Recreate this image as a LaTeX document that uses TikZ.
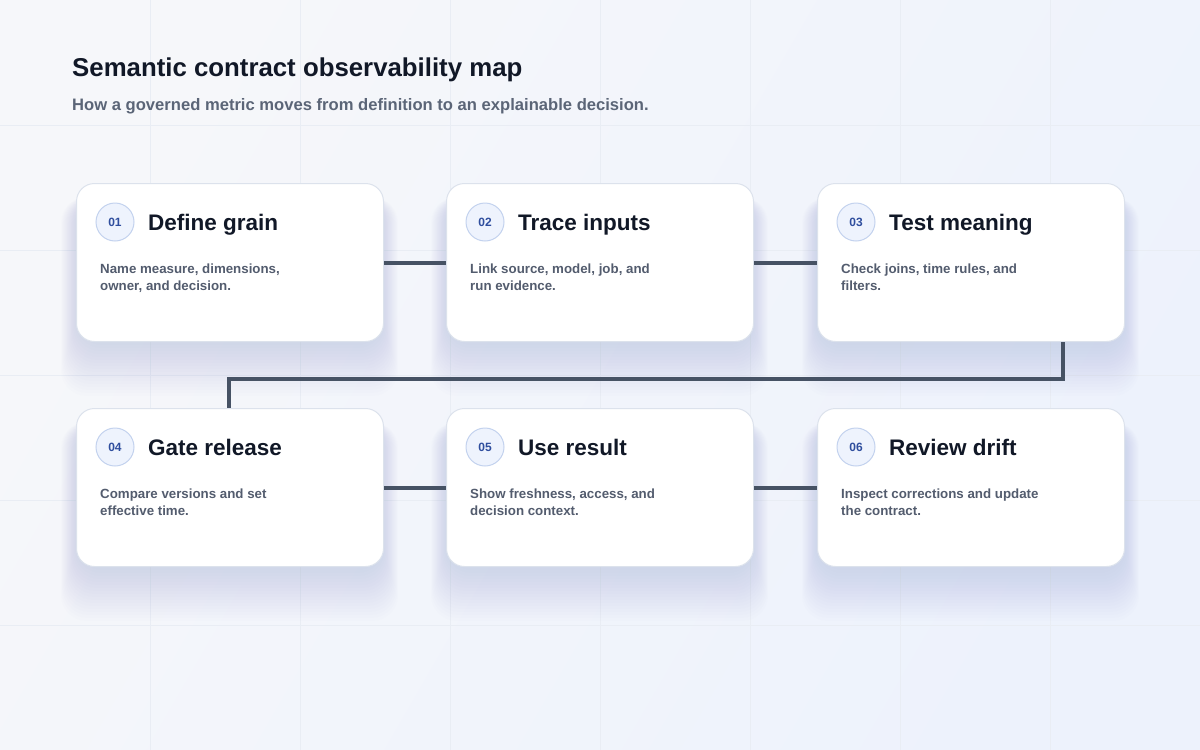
\documentclass[tikz,border=0pt]{standalone}
\usepackage{fontspec}
\setmainfont{Liberation Sans}
\usetikzlibrary{calc}
\definecolor{bgA}{HTML}{F6F7FA}
\definecolor{bgB}{HTML}{EDF2FC}
\definecolor{gridc}{HTML}{E9EDF4}
\definecolor{cardedge}{HTML}{DCE2EC}
\definecolor{titlec}{HTML}{111827}
\definecolor{subc}{HTML}{5B6577}
\definecolor{descc}{HTML}{535C6E}
\definecolor{numc}{HTML}{2F4E9E}
\definecolor{circfill}{HTML}{EEF3FD}
\definecolor{circedge}{HTML}{C3D2EE}
\definecolor{linkc}{HTML}{465264}
\definecolor{shadowc}{HTML}{7C88AA}
\tikzset{
  card/.style={draw=cardedge, line width=1pt, fill=white, rounded corners=18pt,
    minimum width=307pt, minimum height=158pt, anchor=north west, inner sep=0pt},
  shadowlayer/.style={fill=shadowc, fill opacity=0.012, draw=none, rounded corners=26pt},
  numcirc/.style={circle, draw=circedge, line width=1pt, fill=circfill, minimum size=38pt, inner sep=0pt,
    font=\fontsize{12}{14}\selectfont\bfseries, text=numc},
  cardtitle/.style={anchor=base west, inner sep=0pt, font=\fontsize{22.5}{26}\selectfont\bfseries, text=titlec},
  carddesc/.style={anchor=north west, inner sep=0pt, align=left, font=\fontsize{13.3}{17}\selectfont\bfseries, text=descc},
  link/.style={draw=linkc, line width=4pt}
}
\begin{document}
\begin{tikzpicture}[x=1pt,y=-1pt]
\useasboundingbox (0,0) rectangle (1200,750);
\shade[left color=bgA, right color=bgB, shading angle=60] (0,0) rectangle (1200,750);
\foreach \gx in {150,300,...,1050} \draw[gridc, line width=0.8pt] (\gx,0) -- (\gx,750);
\foreach \gy in {125,250,...,625} \draw[gridc, line width=0.8pt] (0,\gy) -- (1200,\gy);

\node[anchor=base west, inner sep=0pt, font=\fontsize{25.8}{30}\selectfont\bfseries, text=titlec] (title) at (72,76.5) {Semantic contract observability map};
\node[anchor=base west, inner sep=0pt, font=\fontsize{16.6}{20}\selectfont\bfseries, text=subc] (subtitle) at (72,110) {How a governed metric moves from definition to an explainable decision.};

\coordinate (mid) at (229,379);

% soft shadows
\foreach \px/\py in {76/183,446/183,817/183,76/408,446/408,817/408}{
  \foreach \k in {1,...,18}{
    \fill[shadowlayer] (\px-16+0.9*\k,\py+14) rectangle (\px+323-0.9*\k,\py+216-3*\k);
  }
}

\foreach \n/\px/\py/\num/\ttl/\dsc in {
  c1/76/183/01/Define grain/{Name measure, dimensions,\\owner, and decision.},
  c2/446/183/02/Trace inputs/{Link source, model, job, and\\run evidence.},
  c3/817/183/03/Test meaning/{Check joins, time rules, and\\filters.},
  c4/76/408/04/Gate release/{Compare versions and set\\effective time.},
  c5/446/408/05/Use result/{Show freshness, access, and\\decision context.},
  c6/817/408/06/Review drift/{Inspect corrections and update\\the contract.}}
{
  \node[card] (\n) at (\px,\py) {};
  \node[numcirc] (\n num) at ($(\px,\py)+(39,39)$) {\num};
  \node[cardtitle] (\n title) at ($(\px,\py)+(72,47)$) {\ttl};
  \node[carddesc] (\n desc) at ($(\px,\py)+(24,81)$) {\dsc};
}

\draw[link] (c1.east) -- (c2.west);
\draw[link] (c2.east) -- (c3.west);
\draw[link] (c4.east) -- (c5.west);
\draw[link] (c5.east) -- (c6.west);
\draw[link] ([xshift=-62pt]c3.south east) |- (mid) -- (c4.north -| mid);
\end{tikzpicture}
\end{document}
